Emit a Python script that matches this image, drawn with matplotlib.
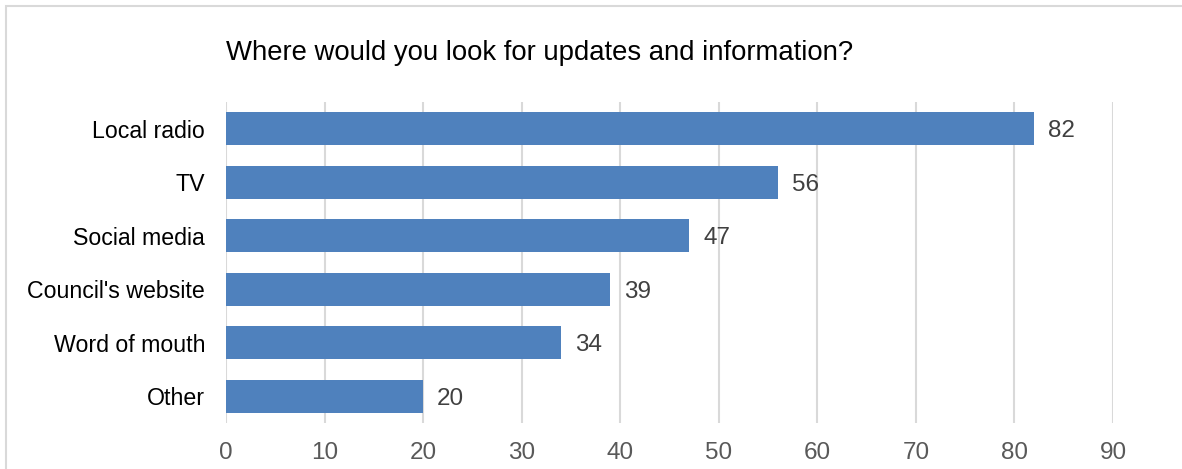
import matplotlib
matplotlib.use("Agg")
import matplotlib.pyplot as plt
from matplotlib.patches import Rectangle

categories = ["Local radio", "TV", "Social media", "Council's website", "Word of mouth", "Other"]
values = [82, 56, 47, 39, 34, 20]
x_ticks = [0, 10, 20, 30, 40, 50, 60, 70, 80, 90]
title = "Where would you look for updates and information?"

plt.rcParams["font.family"] = ["Liberation Sans", "DejaVu Sans"]

W, H = 1182, 469
fig = plt.figure(figsize=(W / 100, H / 100), dpi=100)
fig.patch.set_facecolor("white")

# outer frame of the chart area
fig.patches.append(Rectangle((5.5 / W, -0.1), 1.2, (H - 6.5) / H + 0.1,
                             transform=fig.transFigure, fill=False,
                             edgecolor="#d9d9d9", linewidth=1.5))

ax = fig.add_axes([226 / W, 46 / H, (1113 - 226) / W, (423 - 102) / H])

ypos = list(range(len(categories)))
ax.barh(ypos, values, height=0.62, color="#4f81bd", zorder=3)
ax.set_ylim(len(categories) - 0.5, -0.5)
ax.set_xlim(0, 90)
ax.set_xticks(x_ticks)
ax.set_yticks(ypos)
ax.set_yticklabels(categories)

for y, v in zip(ypos, values):
    ax.annotate(str(v), (v, y), xytext=(10, 0), textcoords="offset points",
                va="center_baseline", ha="left", fontsize=17.5, color="#404040")

ax.grid(axis="x", color="#d9d9d9", linewidth=1.5, zorder=0)
for s in ax.spines.values():
    s.set_visible(False)
ax.tick_params(axis="x", length=0, pad=14, labelsize=17.5, labelcolor="#595959")
ax.tick_params(axis="y", length=0, pad=15, labelsize=16.7, labelcolor="#000000")

fig.text(226 / W, (H - 60) / H, title, fontsize=19.8, color="#000000",
         ha="left", va="baseline")

fig.savefig("out.png", dpi=100)
